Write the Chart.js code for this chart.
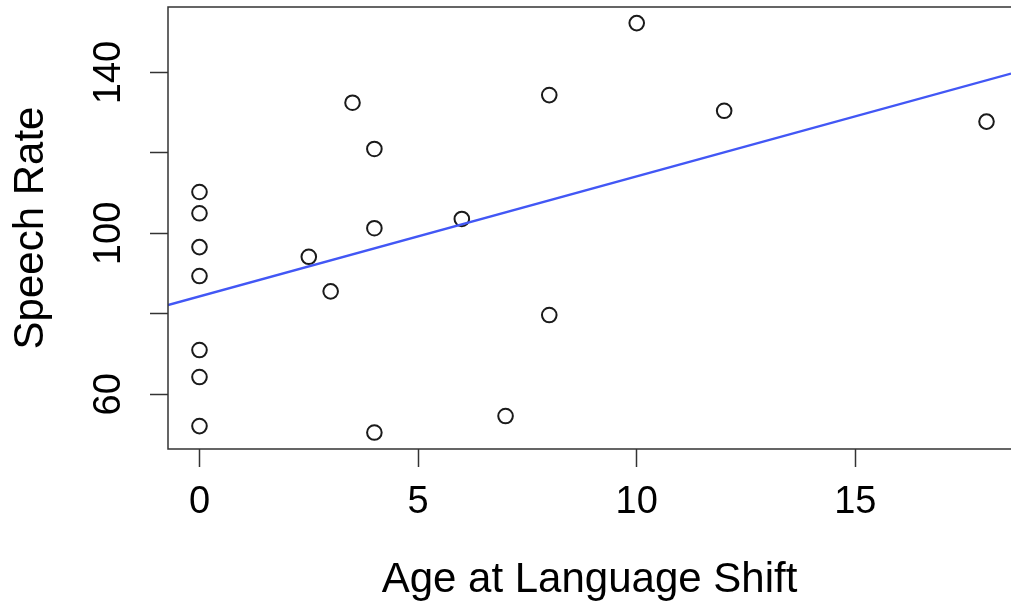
<!DOCTYPE html>
<html>
<head>
<meta charset="utf-8">
<title>Speech Rate vs Age at Language Shift</title>
<script src="https://cdn.jsdelivr.net/npm/chart.js@4.4.1/dist/chart.umd.min.js"></script>
<style>
  html, body { margin: 0; padding: 0; background: #fff; overflow: hidden; }
  #speechChart { display: block; }
</style>
</head>
<body>
<canvas id="speechChart" width="1011" height="609"></canvas>
<script>
// data
var ageShift = [0, 0, 0, 0, 0, 0, 0, 2.5, 3, 3.5, 4, 4, 4, 6, 7, 8, 8, 10, 12, 18];
var speechRate = [110.3, 105.0, 96.6, 89.4, 71.0, 64.3, 52.1, 94.2, 85.6, 132.5,
                  121.0, 101.3, 50.5, 103.6, 54.6, 134.4, 79.7, 152.3, 130.5, 127.8];

// fitted line, ends at the plot edges
var fitX = [-0.72, 18.56];
var fitY = [82.2, 139.75];

// axes (the original is cropped just before its right border)
var xRange = [-0.72, 18.56];
var yRange = [46.4, 156.3];
var xTicks = [0, 5, 10, 15];
var yTicks = [60, 80, 100, 120, 140];
var yTickLabels = [60, 100, 140];

Chart.defaults.font.family = "'Liberation Sans', Arial, Helvetica, sans-serif";
Chart.defaults.color = '#000';

// box on the left, top and bottom; the right side is outside the picture
var framePlugin = {
  id: 'frame',
  afterDatasetsDraw: function (chart) {
    var ctx = chart.ctx, a = chart.chartArea;
    ctx.save();
    ctx.strokeStyle = '#333';
    ctx.lineWidth = 1.5;
    ctx.beginPath();
    ctx.moveTo(a.right + 2, a.top);
    ctx.lineTo(a.left, a.top);
    ctx.lineTo(a.left, a.bottom);
    ctx.lineTo(a.right + 2, a.bottom);
    ctx.stroke();
    ctx.restore();
  }
};

var points = [];
for (var i = 0; i < ageShift.length; ++i) {
  points.push({x: ageShift[i], y: speechRate[i]});
}
var fitLine = [];
for (var j = 0; j < fitX.length; ++j) {
  fitLine.push({x: fitX[j], y: fitY[j]});
}

var ctx = document.getElementById('speechChart');
var speechChart = new Chart(ctx, {
  type: 'scatter',
  data: {
    datasets: [{
      type: 'line',
      data: fitLine,
      borderColor: '#4257f5',
      borderWidth: 2.3,
      pointRadius: 0,
      fill: false,
      showLine: true
    }, {
      data: points,
      pointStyle: 'circle',
      pointRadius: 7.3,
      pointBorderWidth: 2,
      pointBorderColor: '#1a1a1a',
      pointBackgroundColor: 'rgba(0,0,0,0)'
    }]
  },
  options: {
    responsive: false,
    devicePixelRatio: 1,
    animation: false,
    layout: { autoPadding: false, padding: { top: 7, right: 0, left: 0, bottom: 0 } },
    plugins: { legend: { display: false }, tooltip: { enabled: false } },
    scales: {
      x: {
        type: 'linear',
        min: xRange[0],
        max: xRange[1],
        afterBuildTicks: function (s) { s.ticks = xTicks.map(function (v) { return {value: v}; }); },
        afterFit: function (s) { s.height = 160; s.paddingLeft = 0; s.paddingRight = 0; },
        border: { display: false },
        grid: { drawOnChartArea: false, drawTicks: true, tickLength: 18, tickColor: '#333', tickWidth: 1.5 },
        ticks: {
          padding: 13,
          autoSkip: false,
          maxRotation: 0,
          font: { size: 38 },
          color: '#000',
          callback: function (v) { return String(v); }
        },
        title: {
          display: true,
          text: 'Age at Language Shift',
          font: { size: 42 },
          color: '#000',
          padding: { top: 0, bottom: 3 }
        }
      },
      y: {
        type: 'linear',
        min: yRange[0],
        max: yRange[1],
        afterBuildTicks: function (s) { s.ticks = yTicks.map(function (v) { return {value: v}; }); },
        afterFit: function (s) { s.width = 168; s.paddingTop = 0; s.paddingBottom = 0; },
        border: { display: false },
        grid: { drawOnChartArea: false, drawTicks: true, tickLength: 18, tickColor: '#333', tickWidth: 1.5 },
        ticks: {
          padding: 9,
          autoSkip: false,
          minRotation: 90,
          maxRotation: 90,
          crossAlign: 'center',
          font: { size: 38 },
          color: '#000',
          callback: function (v) { return yTickLabels.indexOf(v) >= 0 ? String(v) : ''; }
        },
        title: {
          display: true,
          text: 'Speech Rate',
          font: { size: 42 },
          color: '#000',
          padding: { top: 6, bottom: 0 }
        }
      }
    }
  },
  plugins: [framePlugin]
});
</script>
</body>
</html>
